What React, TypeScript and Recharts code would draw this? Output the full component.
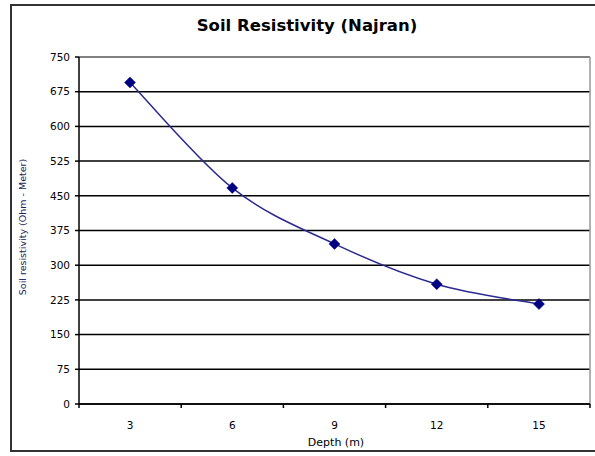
import React from 'react';
import { LineChart, Line, XAxis, YAxis, CartesianGrid, ReferenceLine, Customized } from 'recharts';

const depths = ['3', '6', '9', '12', '15'];
const resistivity = [695, 467, 346, 259, 216];
const yTicks = [0, 75, 150, 225, 300, 375, 450, 525, 600, 675, 750];
const bandTicks = [0, 1, 2, 3, 4, 5];

const data = depths.map((d, i) => ({ depth: d, pos: i + 0.5, value: resistivity[i] }));

const FONT = '"DejaVu Sans", Verdana, sans-serif';

// Spreadsheet-style smoothed line (Catmull-Rom converted to Bezier segments)
function SmoothCurve(this: any, context: any) {
  this._context = context;
}
SmoothCurve.prototype = {
  areaStart() { this._line = 0; },
  areaEnd() { this._line = NaN; },
  lineStart() { this._pts = []; },
  point(x: number, y: number) { this._pts.push([+x, +y]); },
  lineEnd() {
    const p = this._pts as number[][];
    const ctx = this._context;
    const n = p.length;
    if (!n) return;
    ctx.moveTo(p[0][0], p[0][1]);
    if (n === 1) return;
    for (let i = 0; i < n - 1; i++) {
      const p0 = p[Math.max(0, i - 1)];
      const p1 = p[i];
      const p2 = p[i + 1];
      const p3 = p[Math.min(n - 1, i + 2)];
      const c1x = p1[0] + (p2[0] - p0[0]) / 6;
      const c1y = p1[1] + (p2[1] - p0[1]) / 6;
      const c2x = p2[0] - (p3[0] - p1[0]) / 6;
      const c2y = p2[1] - (p3[1] - p1[1]) / 6;
      ctx.bezierCurveTo(c1x, c1y, c2x, c2y, p2[0], p2[1]);
    }
  },
};
const smoothFactory: any = (context: any) => new (SmoothCurve as any)(context);

const Diamond = (props: any) => {
  const { cx, cy } = props;
  if (cx == null || cy == null) return null;
  const r = 5.5;
  return (
    <polygon
      points={`${cx},${cy - r} ${cx + r},${cy} ${cx},${cy + r} ${cx - r},${cy}`}
      fill="#000080"
      stroke="#000080"
      strokeWidth={0.5}
    />
  );
};

const EmptyTick = () => <g />;

const Texts = () => (
  <g fontFamily={FONT}>
    <text x={307} y={31} textAnchor="middle" fontSize={16.5} fontWeight="bold" fill="#000">
      Soil Resistivity (Najran)
    </text>
    <text
      x={26}
      y={227}
      textAnchor="middle"
      fontSize={9.5}
      fill="#222255"
      transform="rotate(-90 26 227)"
    >
      Soil resistivity (Ohm - Meter)
    </text>
    <text x={336} y={446} textAnchor="middle" fontSize={11} fill="#000">
      Depth (m)
    </text>
  </g>
);

export default function App() {
  return (
    <div style={{ position: 'absolute', left: 0, top: 0, width: 595, height: 456, background: '#fff' }}>
      <div
        style={{
          position: 'absolute',
          left: 10,
          top: 4,
          width: 592,
          height: 448,
          border: '2px solid #333',
          boxSizing: 'border-box',
        }}
      />
      <div style={{ position: 'absolute', left: 0, top: 0 }}>
        <LineChart
          width={595}
          height={456}
          data={data}
          margin={{ top: 57, right: 5, bottom: 21, left: 39 }}
        >
          <CartesianGrid horizontal vertical={false} stroke="#000" strokeWidth={1.5} />
          <XAxis
            xAxisId="cat"
            dataKey="depth"
            type="category"
            padding={{ left: 51, right: 51 }}
            tickLine={false}
            axisLine={false}
            tickSize={4}
            tickMargin={13}
            height={30}
            tick={{ fontSize: 10.5, fill: '#000', fontFamily: FONT }}
          />
          <XAxis
            xAxisId="band"
            dataKey="pos"
            type="number"
            domain={[0, 5]}
            ticks={bandTicks}
            interval={0}
            tick={<EmptyTick />}
            tickSize={4}
            height={1}
            axisLine={{ stroke: '#000', strokeWidth: 1.5 }}
            tickLine={{ stroke: '#000', strokeWidth: 1.5 }}
            allowDataOverflow
          />
          <YAxis
            domain={[0, 750]}
            ticks={yTicks}
            interval={0}
            width={40}
            tickSize={4}
            tickMargin={5}
            axisLine={{ stroke: '#000', strokeWidth: 1.5 }}
            tickLine={{ stroke: '#000', strokeWidth: 1.5 }}
            tick={{ fontSize: 10.5, fill: '#000', fontFamily: FONT }}
          />
          <ReferenceLine y={750} xAxisId="band" stroke="#999" strokeWidth={1.5} />
          <ReferenceLine x={5} xAxisId="band" stroke="#999" strokeWidth={1.5} />
          <Line
            xAxisId="band"
            type="linear"
            dataKey="value"
            stroke="none"
            dot={false}
            activeDot={false}
            legendType="none"
            isAnimationActive={false}
          />
          <Line
            xAxisId="cat"
            type={smoothFactory}
            dataKey="value"
            stroke="#2a2a90"
            strokeWidth={1.5}
            dot={<Diamond />}
            activeDot={false}
            isAnimationActive={false}
          />
          <Customized component={Texts} />
        </LineChart>
      </div>
    </div>
  );
}
